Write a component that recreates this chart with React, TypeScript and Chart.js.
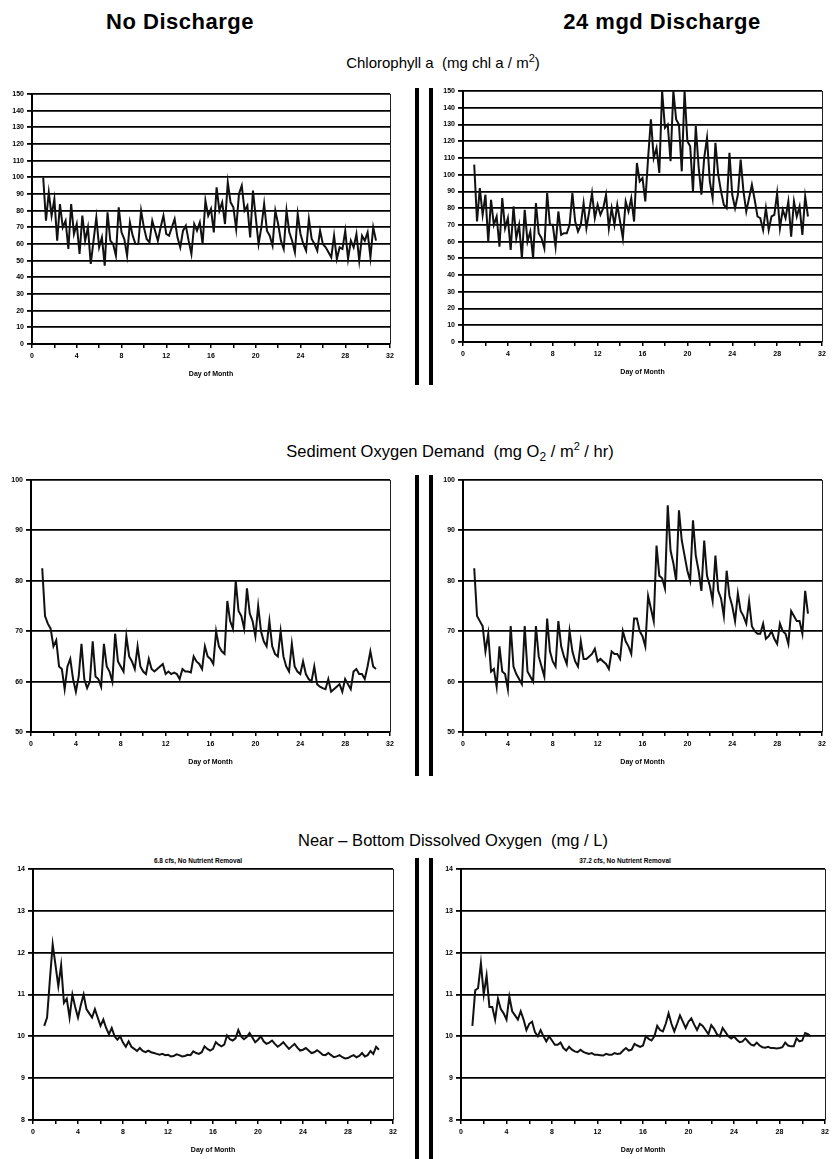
import React, { useEffect, useRef } from "react";
import { Chart, registerables } from "chart.js";
Chart.register(...registerables);

// sample times: every 6 hours from day 1.0 to day 30.75
const days = Array.from({ length: 120 }, (_, i) => 1 + i * 0.25);

const xTicksLabeled = [0, 4, 8, 12, 16, 20, 24, 28, 32];
const xTitle = "Day of Month";

// Chlorophyll a (mg chl a / m2)
const chlNoDischarge = [
  100, 74, 91, 77, 87, 62, 84, 70, 74, 57, 84, 66, 72, 54, 77, 62,
  70, 48, 62, 76, 58, 64, 47, 79, 62, 60, 53, 82, 67, 63, 53, 73,
  65, 60, 60, 80, 70, 63, 61, 74, 68, 62, 70, 77, 66, 65, 70, 75,
  64, 58, 68, 71, 62, 54, 72, 68, 73, 60, 86, 77, 81, 67, 94, 80,
  85, 72, 97, 85, 82, 69, 90, 95, 80, 83, 64, 92, 76, 60, 70, 84,
  68, 65, 59, 80, 72, 62, 57, 80, 67, 62, 55, 78, 66, 60, 56, 75,
  63, 60, 56, 68, 60, 58, 55, 52, 65, 51, 58, 57, 68, 51, 62, 58,
  66, 50, 65, 62, 67, 52, 70, 62,
];
const chl24mgd = [
  106, 72, 92, 76, 88, 60, 85, 70, 75, 57, 86, 68, 74, 55, 81, 62,
  70, 50, 79, 60, 66, 50, 83, 65, 62, 56, 89, 70, 70, 57, 78, 64,
  65, 65, 70, 89, 72, 66, 70, 83, 68, 78, 89, 74, 82, 76, 80, 88,
  68, 80, 70, 82, 72, 62, 84, 78, 86, 72, 107, 96, 98, 84, 110, 133,
  110, 116, 101, 150, 128, 130, 108, 150, 133, 130, 102, 150, 120, 117, 90, 129,
  105, 88, 110, 122, 96, 86, 119, 100, 90, 82, 80, 113, 88, 80, 88, 109,
  90, 78, 86, 94, 85, 75, 74, 67, 80, 67, 75, 76, 89, 68, 79, 74,
  84, 63, 84, 75, 81, 64, 87, 75,
];

// Sediment Oxygen Demand (mg O2 / m2 / hr)
const sodNoDischarge = [
  82.5, 73, 71.5, 70.5, 67, 68.2, 63, 62.5, 58.5, 63, 64.5, 60.5, 58, 61, 67.5, 60.5,
  58.7, 60, 68, 61, 60.5, 59, 67.5, 63, 62, 60, 69.5, 64, 63, 62, 69, 65,
  64, 62.5, 67, 63, 62, 61.5, 64.5, 62.5, 62, 62.5, 63, 63.5, 61.5, 62, 61.5, 61.8,
  61.5, 60.5, 62.5, 62, 62, 61.8, 65, 64, 63.5, 62.5, 67, 65, 64.5, 63.5, 70, 67,
  66, 65.5, 76, 72, 70.5, 80, 74, 73, 70.5, 78.5, 73.5, 72, 69, 75, 70, 68,
  67, 72, 67, 65.5, 65, 70, 65, 63, 62, 67.5, 63, 62, 61.5, 64, 61.5, 60.5,
  60, 63, 59.5, 59, 58.7, 58.5, 60.5, 58, 58.5, 59, 59.5, 58, 60.5, 59.5, 58.5, 62,
  62.5, 61.5, 61.5, 60.5, 63, 66, 63, 62.5,
];
const sod24mgd = [
  82.5, 73, 72, 71, 66, 69.5, 62, 62.5, 59, 67, 62, 61.5, 58.5, 71, 63, 61.5,
  60.5, 59.5, 71, 62, 61, 60, 71, 65, 63, 61, 72.5, 66, 64, 63, 72, 67,
  65, 63.5, 70, 66, 64, 63, 68, 64.5, 64.5, 65, 65.5, 66.5, 64, 64.5, 64, 63.5,
  62.5, 66, 65.5, 65.5, 64.5, 70, 68, 67, 65.5, 72.5, 72.5, 70, 69, 67, 77, 74.5,
  72, 87, 81, 80.5, 78.5, 95, 86, 83.5, 80, 94, 88, 85, 82, 80, 92, 85,
  82, 78, 88, 81, 79, 76, 85, 78, 76.5, 73, 82, 77, 75, 72, 77.5, 74,
  73, 71.5, 76, 71, 70, 69.5, 69.5, 71.5, 68.5, 69, 70, 68.5, 67.5, 71.5, 70, 69.5,
  67.5, 74, 73, 72, 72, 69.5, 78, 73.5,
];

// Near-bottom dissolved oxygen (mg / L)
const doNoDischarge = [
  10.25, 10.45, 11.35, 12.2, 11.7, 11.2, 11.7, 10.8, 10.9, 10.45, 11.0, 10.7, 10.45, 10.75, 11.0, 10.65,
  10.55, 10.45, 10.65, 10.45, 10.25, 10.4, 10.2, 10.05, 10.2, 10.0, 9.92, 10.0, 9.85, 9.75, 9.88, 9.75,
  9.7, 9.65, 9.72, 9.65, 9.62, 9.66, 9.62, 9.6, 9.58, 9.56, 9.58, 9.55, 9.56, 9.52, 9.53, 9.57,
  9.55, 9.52, 9.53, 9.56, 9.55, 9.64, 9.6, 9.58, 9.62, 9.76, 9.7, 9.66, 9.7, 9.86, 9.8, 9.76,
  9.8, 10.02, 9.93, 9.9, 9.95, 10.15, 10.0, 9.93, 9.98, 10.08, 9.97, 9.86, 9.92, 10.0, 9.88, 9.82,
  9.85, 9.9, 9.82, 9.75, 9.8, 9.86, 9.78, 9.7, 9.76, 9.82, 9.73, 9.66, 9.68, 9.72, 9.66, 9.6,
  9.62, 9.67, 9.62, 9.56, 9.55, 9.6, 9.55, 9.5, 9.52, 9.55, 9.5, 9.47, 9.48, 9.52, 9.55, 9.5,
  9.53, 9.6, 9.52, 9.55, 9.65, 9.58, 9.75, 9.68,
];
const do24mgd = [
  10.25, 11.1, 11.15, 11.75, 11.0, 11.45, 10.7, 10.7, 10.4, 10.9, 10.65, 10.55, 10.4, 10.95, 10.6, 10.5,
  10.4, 10.6, 10.4, 10.15, 10.3, 10.35, 10.1, 10.0, 10.15, 10.0, 9.88, 10.0, 9.9, 9.8, 9.8, 9.85,
  9.72, 9.66, 9.75, 9.68, 9.64, 9.62, 9.68, 9.63, 9.6, 9.58, 9.6, 9.56, 9.56, 9.55, 9.54, 9.58,
  9.56, 9.56, 9.6, 9.58, 9.59, 9.66, 9.72, 9.66, 9.68, 9.82, 9.78, 9.75, 9.78, 10.0, 9.94, 9.9,
  10.0, 10.25, 10.15, 10.12, 10.3, 10.55, 10.3, 10.12, 10.3, 10.5, 10.35, 10.2, 10.35, 10.43, 10.28, 10.15,
  10.3, 10.25, 10.15, 10.05, 10.27, 10.18, 10.05, 10.0, 10.2, 10.1, 10.0, 9.95, 10.0, 9.92, 9.86, 9.88,
  9.95, 9.87, 9.8, 9.78, 9.85, 9.78, 9.74, 9.73, 9.75, 9.72, 9.72, 9.71, 9.72, 9.74, 9.85, 9.78,
  9.76, 9.76, 9.95, 9.88, 9.9, 10.08, 10.05, 10.0,
];

const FONT = "'Liberation Sans', Arial, sans-serif";
const tickFont = { family: FONT, size: 7, weight: "bold" as const };

const framePlugin = {
  id: "frame",
  afterDraw(chart: any) {
    const { ctx, chartArea } = chart;
    ctx.save();
    ctx.strokeStyle = "#222";
    ctx.lineWidth = 1;
    ctx.beginPath();
    ctx.moveTo(chartArea.right + 0.5, chartArea.top);
    ctx.lineTo(chartArea.right + 0.5, chartArea.bottom);
    ctx.stroke();
    ctx.restore();
  },
};

type PanelProps = {
  left: number;
  top: number;
  right: number;
  bottom: number;
  values: number[];
  yMin: number;
  yMax: number;
  yStep: number;
};

const PAD_TOP = 10;
const PAD_RIGHT = 10;
const Y_W = 32;
const X_H = 45;

function Panel({ left, top, right, bottom, values, yMin, yMax, yStep }: PanelProps) {
  const ref = useRef<HTMLCanvasElement | null>(null);
  const w = right - left + Y_W + PAD_RIGHT;
  const h = bottom - top + PAD_TOP + X_H;
  useEffect(() => {
    if (!ref.current) return;
    const chart = new Chart(ref.current, {
      type: "line",
      data: {
        datasets: [
          {
            data: days.map((d, i) => ({ x: d, y: values[i] })),
            borderColor: "#111",
            borderWidth: 2,
            pointRadius: 0,
            tension: 0,
            fill: false,
          },
        ],
      },
      options: {
        animation: false,
        responsive: false,
        maintainAspectRatio: false,
        layout: { padding: { top: PAD_TOP, right: PAD_RIGHT, left: 0, bottom: 0 } },
        plugins: { legend: { display: false }, tooltip: { enabled: false }, title: { display: false } },
        scales: {
          x: {
            type: "linear",
            min: 0,
            max: 32,
            afterFit: (s: any) => {
              s.height = X_H;
            },
            ticks: {
              stepSize: 2,
              autoSkip: false,
              maxRotation: 0,
              color: "#000",
              font: tickFont,
              padding: 4,
              callback: (v: any) => (xTicksLabeled.includes(Number(v)) ? String(v) : ""),
            },
            grid: { drawOnChartArea: false, drawTicks: true, tickLength: 4, color: "#000", lineWidth: 1.5 },
            border: { color: "#000", width: 2 },
            title: {
              display: true,
              text: xTitle,
              color: "#000",
              font: tickFont,
              padding: { top: 0, bottom: 11 },
            },
          },
          y: {
            type: "linear",
            min: yMin,
            max: yMax,
            afterFit: (s: any) => {
              s.width = Y_W;
            },
            ticks: { stepSize: yStep, color: "#000", font: tickFont, padding: 3 },
            grid: { color: "#000", lineWidth: 1.8, tickLength: 5, drawTicks: true },
            border: { color: "#000", width: 2 },
          },
        },
      } as any,
      plugins: [framePlugin],
    });
    return () => chart.destroy();
  }, []);
  return (
    <canvas
      ref={ref}
      width={w}
      height={h}
      style={{ position: "absolute", left: left - Y_W, top: top - PAD_TOP, width: w, height: h }}
    />
  );
}

const textBase: React.CSSProperties = {
  position: "absolute",
  fontFamily: FONT,
  color: "#000",
  whiteSpace: "nowrap",
  textAlign: "center",
  lineHeight: 1,
};

function Bars({ top, height }: { top: number; height: number }) {
  return (
    <>
      <div style={{ position: "absolute", left: 415, top, width: 4, height, background: "#000" }} />
      <div style={{ position: "absolute", left: 429, top, width: 4, height, background: "#000" }} />
    </>
  );
}

export default function App() {
  return (
    <div style={{ position: "absolute", left: 0, top: 0, width: 836, height: 1159, background: "#fff", overflow: "hidden" }}>
      <div style={{ ...textBase, left: 80, width: 200, top: 11, fontSize: 22, fontWeight: "bold", letterSpacing: 0.5 }}>No Discharge</div>
      <div style={{ ...textBase, left: 562, width: 200, top: 11, fontSize: 22, fontWeight: "bold", letterSpacing: 0.5 }}>24 mgd Discharge</div>

      <div style={{ ...textBase, left: 243, width: 400, top: 53, fontSize: 15 }}>
        Chlorophyll a&nbsp; (mg chl a / m<sup style={{ fontSize: 11 }}>2</sup>)
      </div>
      <Panel left={32} top={94} right={390} bottom={344} values={chlNoDischarge} yMin={0} yMax={150} yStep={10} />
      <Panel left={463} top={91} right={822} bottom={342} values={chl24mgd} yMin={0} yMax={150} yStep={10} />
      <Bars top={88} height={297} />

      <div style={{ ...textBase, left: 250, width: 400, top: 441, fontSize: 16.5 }}>
        Sediment Oxygen Demand&nbsp; (mg O<sub style={{ fontSize: 12 }}>2</sub> / m<sup style={{ fontSize: 11 }}>2</sup> / hr)
      </div>
      <Panel left={31} top={480} right={390} bottom={732} values={sodNoDischarge} yMin={50} yMax={100} yStep={10} />
      <Panel left={463} top={480} right={822} bottom={732} values={sod24mgd} yMin={50} yMax={100} yStep={10} />
      <Bars top={475} height={301} />

      <div style={{ ...textBase, left: 253, width: 400, top: 832, fontSize: 16.5 }}>
        Near – Bottom Dissolved Oxygen&nbsp; (mg / L)
      </div>
      <div style={{ ...textBase, left: 118, width: 160, top: 858, fontSize: 6.5, fontWeight: "bold" }}>
        6.8 cfs, No Nutrient Removal
      </div>
      <div style={{ ...textBase, left: 545, width: 160, top: 858, fontSize: 6.5, fontWeight: "bold" }}>
        37.2 cfs, No Nutrient Removal
      </div>
      <Panel left={33} top={869} right={393} bottom={1120} values={doNoDischarge} yMin={8} yMax={14} yStep={1} />
      <Panel left={461} top={869} right={825} bottom={1120} values={do24mgd} yMin={8} yMax={14} yStep={1} />
      <Bars top={858} height={301} />
    </div>
  );
}
